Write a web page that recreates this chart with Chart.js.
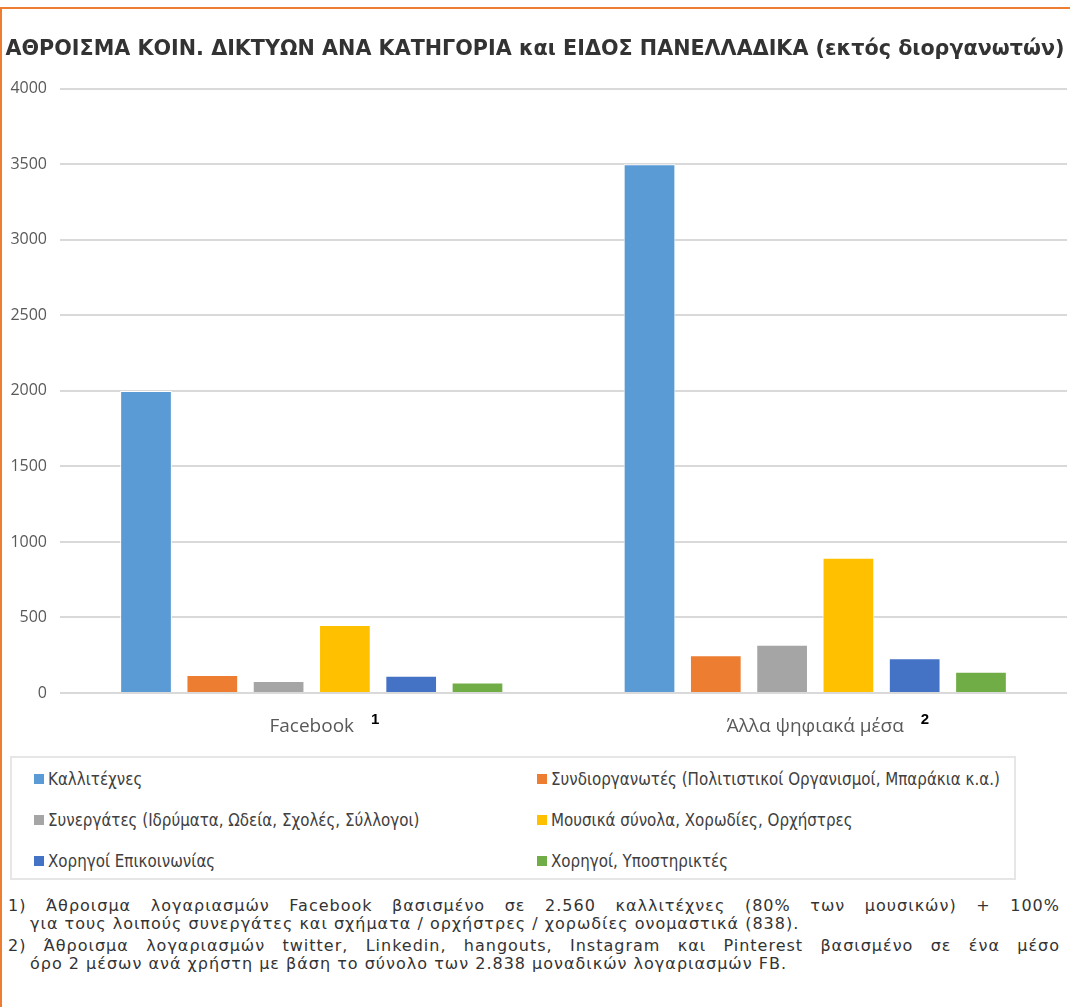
<!DOCTYPE html>
<html lang="el">
<head>
<meta charset="utf-8">
<script src="https://cdn.jsdelivr.net/npm/chart.js@4/dist/chart.umd.min.js"></script>
<style>
  html, body { margin: 0; padding: 0; background: #fff; }
  body { width: 1070px; height: 1007px; position: relative; overflow: hidden; font-family: "DejaVu Sans Condensed", "DejaVu Sans", sans-serif; }
  .frame { position: absolute; left: 0; top: 7px; width: 1070px; height: 1000px; border-top: 2px solid #ED7D31; border-left: 2px solid #ED7D31; box-sizing: border-box; }
  .chart-box { position: absolute; left: 0; top: 0; width: 1070px; height: 755px; }
  .legend { position: absolute; left: 10px; top: 756px; width: 1006px; height: 124px; border: 2px solid #e6e6e6; box-sizing: border-box; display: grid; grid-template-columns: 503px 1fr; grid-auto-rows: 41px; padding: 0 0 0 22px; font-size: 16.8px; color: #404040; }
  .legend span { display: flex; align-items: center; }
  .legend i { display: inline-block; width: 10px; height: 10px; margin-right: 4px; }
  .notes { position: absolute; left: 8px; top: 897px; width: 1052px; font-family: "DejaVu Sans", sans-serif; font-size: 16px; letter-spacing: 1px; color: #333; line-height: 18px; }
  .notes p { margin: 0 0 4px 0; }
  .notes .l1 { display: block; text-align: justify; text-align-last: justify; }
  .notes .l2 { display: block; padding-left: 22px; }
</style>
</head>
<body>
<div class="frame"></div>
<div class="chart-box"><canvas id="networksChart"></canvas></div>
<div class="legend" id="legend"></div>
<div class="notes">
  <p><span class="l1">1) Άθροισμα λογαριασμών Facebook βασισμένο σε 2.560 καλλιτέχνες (80% των μουσικών) + 100%</span><span class="l2">για τους λοιπούς συνεργάτες και σχήματα / ορχήστρες / χορωδίες ονομαστικά (838).</span></p>
  <p><span class="l1">2) Άθροισμα λογαριασμών twitter, Linkedin, hangouts, Instagram και Pinterest βασισμένο σε ένα μέσο</span><span class="l2">όρο 2 μέσων ανά χρήστη με βάση το σύνολο των 2.838 μοναδικών λογαριασμών FB.</span></p>
</div>
<script>
const categories = ["Facebook", "Άλλα ψηφιακά μέσα"];
const noteMarks = ["1", "2"];
const seriesNames = [
  "Καλλιτέχνες",
  "Συνδιοργανωτές (Πολιτιστικοί Οργανισμοί, Μπαράκια κ.α.)",
  "Συνεργάτες (Ιδρύματα, Ωδεία, Σχολές, Σύλλογοι)",
  "Μουσικά σύνολα, Χορωδίες, Ορχήστρες",
  "Χορηγοί Επικοινωνίας",
  "Χορηγοί, Υποστηρικτές"
];
const artists = [2000, 3500];
const coOrganizers = [120, 250];
const partners = [80, 320];
const ensembles = [450, 895];
const mediaSponsors = [115, 230];
const sponsors = [70, 140];
const yTicks = [0, 500, 1000, 1500, 2000, 2500, 3000, 3500, 4000];
const colors = ["#5B9BD5", "#ED7D31", "#A5A5A5", "#FFC000", "#4472C4", "#70AD47"];

const seriesValues = [artists, coOrganizers, partners, ensembles, mediaSponsors, sponsors];

const noteMarkPlugin = {
  id: "noteMarks",
  afterDraw(chart) {
    const x = chart.scales.x;
    const ctx = chart.ctx;
    ctx.save();
    categories.forEach((label, i) => {
      ctx.font = "19px 'Open Sans', sans-serif";
      const w = ctx.measureText(label).width;
      const px = x.getPixelForValue(i) + w / 2 + 17;
      ctx.font = "bold 15px 'Liberation Sans', sans-serif";
      ctx.fillStyle = "#000";
      ctx.textBaseline = "middle";
      ctx.fillText(noteMarks[i], px, x.top + 27);
    });
    ctx.restore();
  }
};

const chart = new Chart(document.getElementById("networksChart"), {
  type: "bar",
  data: {
    labels: categories,
    datasets: seriesNames.map((name, i) => ({
      label: name,
      data: seriesValues[i],
      backgroundColor: colors[i],
      borderColor: "#ffffff",
      borderWidth: 1,
      categoryPercentage: 0.79,
      barPercentage: 0.78
    }))
  },
  options: {
    responsive: true,
    maintainAspectRatio: false,
    animation: false,
    layout: { padding: { left: 3, right: 3, top: 0, bottom: 0 } },
    plugins: {
      legend: { display: false },
      tooltip: { enabled: false },
      title: {
        display: true,
        text: "ΑΘΡΟΙΣΜΑ ΚΟΙΝ. ΔΙΚΤΥΩΝ ΑΝΑ ΚΑΤΗΓΟΡΙΑ και ΕΙΔΟΣ ΠΑΝΕΛΛΑΔΙΚΑ (εκτός διοργανωτών)",
        color: "#333333",
        font: { family: "'DejaVu Sans', sans-serif", size: 20.7, weight: "bold" },
        padding: { top: 37, bottom: 27 }
      }
    },
    scales: {
      x: {
        grid: { display: false },
        border: { display: false },
        ticks: { color: "#595959", font: { family: "'Open Sans', sans-serif", size: 19 }, padding: 14 },
        afterFit(scale) { scale.height = 62; }
      },
      y: {
        min: 0,
        max: 4000,
        afterBuildTicks(scale) { scale.ticks = yTicks.map((v) => ({ value: v })); },
        afterFit(scale) { scale.width = 57; },
        grid: { color: "#d9d9d9", lineWidth: 2, drawTicks: false },
        border: { display: false },
        ticks: {
          color: "#595959",
          font: { family: "'Open Sans', sans-serif", size: 16 },
          padding: 13,
          callback: (v) => String(v)
        }
      }
    }
  },
  plugins: [noteMarkPlugin]
});

const legend = document.getElementById("legend");
chart.data.datasets.forEach((ds) => {
  const item = document.createElement("span");
  item.innerHTML = `<i style="background:${ds.backgroundColor}"></i>${ds.label}`;
  legend.appendChild(item);
});
</script>
</body>
</html>
